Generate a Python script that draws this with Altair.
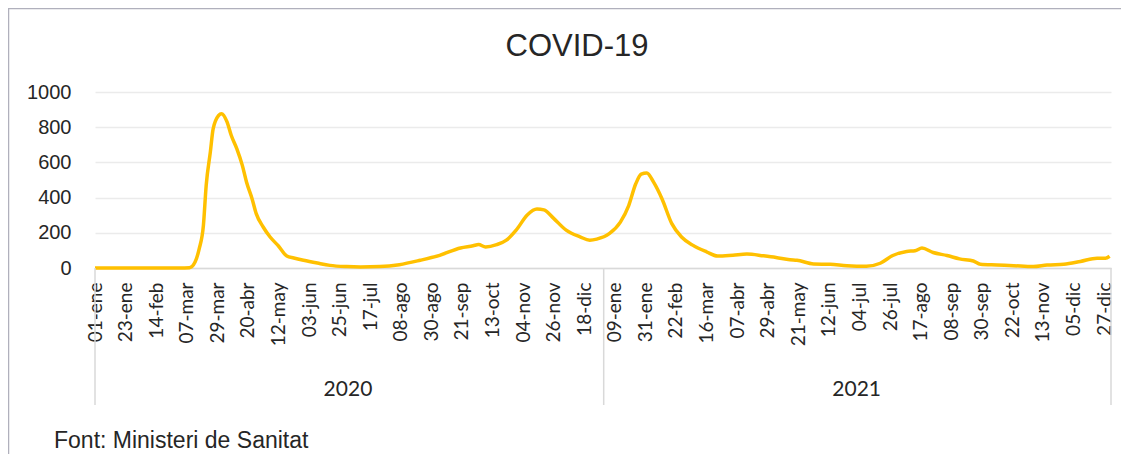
import altair as alt
import pandas as pd

# ---- data ----
dates = [
    "2020-01-01", "2020-02-10", "2020-03-02", "2020-03-09", "2020-03-13", "2020-03-16",
    "2020-03-19", "2020-03-21", "2020-03-24", "2020-03-26", "2020-03-30", "2020-04-01",
    "2020-04-05", "2020-04-08", "2020-04-12", "2020-04-16", "2020-04-19", "2020-04-23",
    "2020-04-26", "2020-05-01", "2020-05-06", "2020-05-12", "2020-05-18", "2020-05-23",
    "2020-05-30", "2020-06-09", "2020-06-18", "2020-06-30", "2020-07-10", "2020-07-24",
    "2020-08-07", "2020-08-22", "2020-09-05", "2020-09-20", "2020-09-29", "2020-10-03",
    "2020-10-08", "2020-10-16", "2020-10-23", "2020-10-30", "2020-11-07", "2020-11-14",
    "2020-11-19", "2020-11-26", "2020-12-05", "2020-12-15", "2020-12-22", "2020-12-27",
    "2021-01-05", "2021-01-13", "2021-01-19", "2021-01-24", "2021-01-28", "2021-02-01",
    "2021-02-06", "2021-02-12", "2021-02-19", "2021-02-26", "2021-03-06", "2021-03-16",
    "2021-03-24", "2021-04-04", "2021-04-14", "2021-04-26", "2021-05-05", "2021-05-15",
    "2021-05-20", "2021-06-01", "2021-06-13", "2021-06-25", "2021-07-09", "2021-07-19",
    "2021-07-28", "2021-08-07", "2021-08-13", "2021-08-18", "2021-08-26", "2021-09-05",
    "2021-09-14", "2021-09-24", "2021-09-29", "2021-10-11", "2021-10-23", "2021-11-06",
    "2021-11-16", "2021-11-28", "2021-12-10", "2021-12-22", "2021-12-28", "2021-12-31",
]
values = [
    0, 0, 0, 2, 34, 110,
    242, 470, 660, 790, 867, 877,
    830, 754, 678, 583, 489, 394,
    309, 233, 176, 125, 68, 57,
    44, 28, 15, 8, 6, 8,
    19, 44, 72, 114, 126, 133,
    120, 133, 158, 215, 301, 335,
    330, 282, 215, 177, 158, 164,
    195, 261, 355, 477, 533, 540,
    486, 392, 252, 176, 130, 92,
    68, 73, 79, 69, 60, 47,
    44, 23, 21, 13, 10, 27,
    71, 94, 98, 113, 88, 71,
    52, 40, 21, 17, 13, 8,
    17, 21, 37, 56, 56, 67,
]

tick_dates = [
    "2020-01-01", "2020-01-23", "2020-02-14", "2020-03-07", "2020-03-29", "2020-04-20",
    "2020-05-12", "2020-06-03", "2020-06-25", "2020-07-17", "2020-08-08", "2020-08-30",
    "2020-09-21", "2020-10-13", "2020-11-04", "2020-11-26", "2020-12-18", "2021-01-09",
    "2021-01-31", "2021-02-22", "2021-03-16", "2021-04-07", "2021-04-29", "2021-05-21",
    "2021-06-12", "2021-07-04", "2021-07-26", "2021-08-17", "2021-09-08", "2021-09-30",
    "2021-10-22", "2021-11-13", "2021-12-05", "2021-12-27",
]
month_abbr = ["ene", "feb", "mar", "abr", "may", "jun", "jul", "ago", "sep", "oct", "nov", "dic"]
y_ticks = [0, 200, 400, 600, 800, 1000]

year_labels = ["2020", "2021"]
year_centers = ["2020-07-01", "2021-07-02"]
year_bounds = ["2020-01-01", "2021-01-01", "2022-01-01"]

title_text = "COVID-19"
source_text = "Font: Ministeri de Sanitat"


def dt(s):
    y, m, d = (int(p) for p in s.split("-"))
    return alt.DateTime(year=y, month=m, date=d, utc=True)


df = pd.DataFrame({"fecha": dates, "valor": values})
df_years = pd.DataFrame({"fecha": year_centers, "anio": year_labels})
df_bounds = pd.DataFrame({"fecha": year_bounds})
df_one = pd.DataFrame({"k": [0]})

month_js = "[" + ",".join("'" + m + "'" for m in month_abbr) + "]"
label_expr = "utcFormat(datum.value, '%d') + '-' + " + month_js + "[utcmonth(datum.value)]"

x_scale = alt.Scale(type="utc", domain=[dt("2020-01-01"), dt("2022-01-01")], nice=False)
x_axis = alt.Axis(
    values=[dt(s) for s in tick_dates],
    labelExpr=label_expr,
    labelAngle=-90,
    labelAlign="right",
    labelBaseline="middle",
    labelFont="Lato",
    labelFontSize=19,
    labelColor="#262626",
    labelPadding=14,
    ticks=False,
    grid=False,
    domainColor="#d9d9d9",
    domainWidth=1.5,
    title=None,
    labelOverlap=False,
    labelBound=False,
    labelFlush=False,
)

line = alt.Chart(df).mark_line(
    color="#FFC000", strokeWidth=3.5, interpolate="monotone"
).encode(
    x=alt.X("fecha:T", scale=x_scale, axis=x_axis),
    y=alt.Y(
        "valor:Q",
        scale=alt.Scale(domain=[0, 1000], nice=False),
        axis=alt.Axis(
            values=y_ticks,
            format="d",
            labelFont="Liberation Sans",
            labelFontSize=20,
            labelColor="#262626",
            labelPadding=24,
            ticks=False,
            domain=False,
            gridColor="#ebebeb",
            gridWidth=1.5,
            title=None,
        ),
    ),
)

seps = alt.Chart(df_bounds).mark_rule(color="#d9d9d9", strokeWidth=1.5).encode(
    x=alt.X("fecha:T", scale=x_scale, axis=x_axis),
    y=alt.value(176),
    y2=alt.value(313),
)

years = alt.Chart(df_years).mark_text(
    font="Lato", fontSize=21, color="#262626", align="center", baseline="middle"
).encode(
    x=alt.X("fecha:T", scale=x_scale, axis=x_axis),
    y=alt.value(298),
    text="anio:N",
)

title = alt.Chart(df_one).mark_text(
    text=title_text, font="Liberation Sans", fontSize=31, color="#262626",
    align="center", baseline="alphabetic"
).encode(x=alt.value(482), y=alt.value(-36))

source = alt.Chart(df_one).mark_text(
    text=source_text, font="Liberation Sans", fontSize=23, color="#262626",
    align="left", baseline="alphabetic"
).encode(x=alt.value(-41), y=alt.value(356))

frame = alt.Chart(df_one).mark_rect(
    fill=None, stroke="#b0b0bc", strokeWidth=1.5
).encode(x=alt.value(-86.5), x2=alt.value(1045), y=alt.value(-83.5), y2=alt.value(400))

chart = alt.layer(line, seps, years, frame, title, source).properties(
    width=1016,
    height=176,
    padding={"left": 87, "top": 84, "right": 10, "bottom": 186},
    autosize=alt.AutoSizeParams(type="none"),
).configure_view(stroke=None)

chart.save("out.html", embed_options={"renderer": "svg", "actions": False})
